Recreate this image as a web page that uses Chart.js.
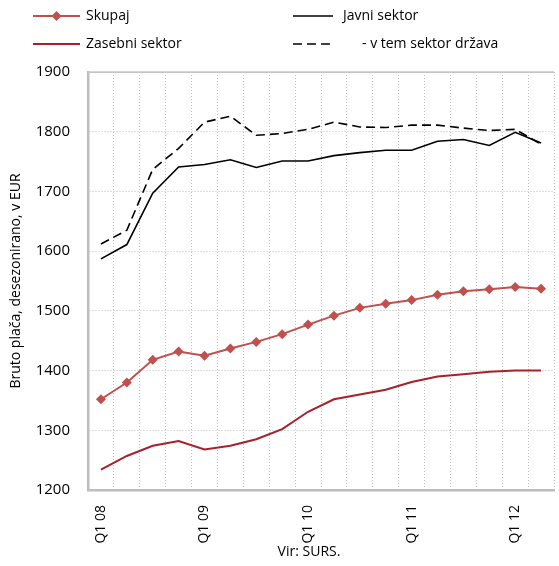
<!DOCTYPE html>
<html><head><meta charset="utf-8">
<script src="https://cdn.jsdelivr.net/npm/chart.js@4.4.1/dist/chart.umd.min.js"></script>
<style>html,body{margin:0;padding:0;background:#fff}#wrap{width:559px;height:566px;position:relative}</style>
</head><body><div id="wrap"><canvas id="c"></canvas></div>
<script>
const categories = ['Q1 08','Q2 08','Q3 08','Q4 08','Q1 09','Q2 09','Q3 09','Q4 09','Q1 10','Q2 10','Q3 10','Q4 10','Q1 11','Q2 11','Q3 11','Q4 11','Q1 12','Q2 12'];
const skupaj   = [1352,1380,1418,1432,1425,1437,1448,1461,1477,1492,1505,1512,1518,1527,1533,1536,1540,1537];
const zasebni  = [1234,1257,1274,1282,1268,1274,1285,1302,1331,1352,1360,1368,1381,1390,1394,1398,1400,1400];
const javni    = [1587,1611,1697,1741,1745,1753,1740,1751,1751,1760,1765,1769,1769,1784,1787,1777,1799,1781];
const drzava   = [1612,1635,1737,1772,1816,1826,1794,1797,1804,1816,1808,1807,1811,1811,1806,1802,1804,1779];
const seriesNames = ['Skupaj','Zasebni sektor','Javni sektor','- v tem sektor država'];
const yTitle = 'Bruto plača, desezonirano, v EUR';
const source = 'Vir: SURS.';
const FONT = '"Open Sans", "Noto Sans", sans-serif';

const legendPlugin = {
  id: 'customLegend',
  afterDraw(chart) {
    const ctx = chart.ctx;
    const ds = chart.data.datasets;
    const items = [
      {d: ds[0], x1: 33, x2: 80, tx: 86, y: 16},
      {d: ds[1], x1: 33, x2: 80, tx: 86, y: 44},
      {d: ds[2], x1: 293, x2: 333, tx: 343, y: 16},
      {d: ds[3], x1: 293, x2: 333, tx: 362, y: 44}
    ];
    ctx.save();
    items.forEach(it => {
      ctx.strokeStyle = it.d.borderColor;
      ctx.lineWidth = it.d.borderWidth;
      ctx.setLineDash(it.d.borderDash || []);
      ctx.beginPath(); ctx.moveTo(it.x1, it.y); ctx.lineTo(it.x2, it.y); ctx.stroke();
      ctx.setLineDash([]);
      if (it.d.pointRadius > 0) {
        const cx = (it.x1 + it.x2) / 2, r = it.d.pointRadius;
        ctx.fillStyle = it.d.pointBackgroundColor;
        ctx.beginPath(); ctx.moveTo(cx, it.y - r); ctx.lineTo(cx + r, it.y); ctx.lineTo(cx, it.y + r); ctx.lineTo(cx - r, it.y); ctx.closePath(); ctx.fill();
      }
      ctx.fillStyle = '#000';
      ctx.font = '14px ' + FONT;
      ctx.textBaseline = 'middle';
      ctx.textAlign = 'left';
      ctx.fillText(it.d.label, it.tx, it.y);
    });
    ctx.font = '14px ' + FONT;
    ctx.textAlign = 'center';
    ctx.textBaseline = 'middle';
    ctx.fillText(source, 309, 552);
    const a = chart.chartArea;
    ctx.strokeStyle = '#c8c8c8'; ctx.lineWidth = 1.5;
    ctx.beginPath(); ctx.moveTo(a.left, a.top); ctx.lineTo(a.right, a.top); ctx.stroke();
    ctx.restore();
  }
};

new Chart(document.getElementById('c'), {
  type: 'line',
  data: {
    labels: categories,
    datasets: [
      {label: seriesNames[0], data: skupaj, borderColor: '#c0504d', backgroundColor: '#c0504d', borderWidth: 2,
       pointStyle: 'rectRot', pointRadius: 5, pointBackgroundColor: '#c0504d', pointBorderColor: '#c0504d', pointBorderWidth: 0, tension: 0, order: 1},
      {label: seriesNames[1], data: zasebni, borderColor: '#a8202a', borderWidth: 2, pointRadius: 0, tension: 0, order: 2},
      {label: seriesNames[2], data: javni, borderColor: '#000000', borderWidth: 1.6, pointRadius: 0, tension: 0, order: 3},
      {label: seriesNames[3], data: drzava, borderColor: '#000000', borderWidth: 1.6, borderDash: [9,5], pointRadius: 0, tension: 0, order: 4}
    ]
  },
  options: {
    responsive: true, maintainAspectRatio: false, animation: false,
    layout: {padding: {top: 72, left: 0, right: 0, bottom: 0}},
    plugins: {legend: {display: false}, title: {display: false}, tooltip: {enabled: false}},
    scales: {
      x: {
        type: 'category', offset: true,
        grid: {offset: true, drawTicks: false, color: ctx => ctx.index >= categories.length ? 'rgba(0,0,0,0)' : '#bdbdbd', lineWidth: 1},
        border: {display: true, color: '#bdbdbd', width: 2.5, dash: [1,2]},
        ticks: {autoSkip: false, maxRotation: 90, minRotation: 90, padding: 15, color: '#000',
                font: {family: FONT, size: 14},
                callback: function(v, i) { return i % 4 === 0 ? categories[i] : ''; }},
        afterFit: s => { s.height = 76; s.paddingLeft = 0; s.paddingRight = 0; }
      },
      y: {
        min: 1200, max: 1900,
        grid: {drawTicks: false, color: '#bdbdbd', lineWidth: 1},
        border: {display: true, color: '#bdbdbd', width: 2.5, dash: ctx => (ctx.tick && ctx.tick.value === 1900) ? [] : [1,2]},
        ticks: {stepSize: 100, padding: 18, color: '#000', font: {family: FONT, size: 15},
                callback: v => String(v)},
        title: {display: true, text: yTitle, color: '#000', font: {family: FONT, size: 14}, padding: {top: 8, bottom: 0}},
        afterFit: s => { s.width = 88; s.paddingTop = 0; s.paddingBottom = 0; }
      }
    }
  },
  plugins: [legendPlugin]
});
</script></body></html>
